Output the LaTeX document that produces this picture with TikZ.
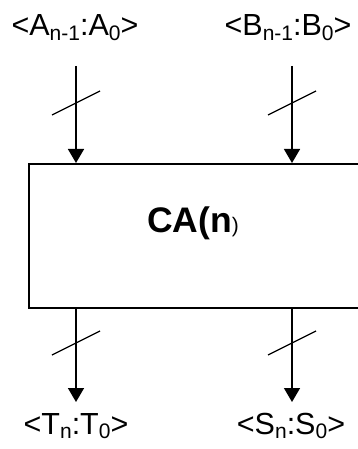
\documentclass[tikz,border=0pt]{standalone}
\usepackage{fontspec}
\setmainfont{Liberation Sans}
\usetikzlibrary{arrows.meta}
\newcommand\sbs[1]{\raisebox{-4.5pt}{\fontsize{21}{21}\selectfont #1}}
\begin{document}
\begin{tikzpicture}[x=1pt,y=-1pt,
  lbl/.style={inner sep=0pt,font=\fontsize{30.5}{34}\selectfont},
  bus/.style={line width=1.5pt,-{Triangle[width=16pt,length=14pt]}},
  slash/.style={line width=1.3pt},
  blk/.style={draw,line width=2pt,inner sep=0pt,anchor=north west}]
\useasboundingbox (0,0) rectangle (358,449);
\node[blk,minimum width=350pt,minimum height=144pt] (ca) at (28,163) {};
\node[inner sep=0pt,anchor=base west,font=\fontsize{35.5}{40}\selectfont\bfseries] (t) at (147,232) {CA(n\textmd{\fontsize{21}{21}\selectfont)}};
\node[lbl,anchor=base] (la) at (75,36) {<A\sbs{n-1}:A\sbs{0}>};
\node[lbl,anchor=base] (lb) at (288,36) {<B\sbs{n-1}:B\sbs{0}>};
\node[lbl,anchor=base] (lt) at (76,434) {<T\sbs{n}:T\sbs{0}>};
\node[lbl,anchor=base] (ls) at (291,434) {<S\sbs{n}:S\sbs{0}>};
\coordinate (a0) at (76,66);
\coordinate (b0) at (292,66);
\coordinate (t1) at (76,402);
\coordinate (s1) at (292,402);
\draw[bus] (a0) -- (a0 |- ca.north);
\draw[bus] (b0) -- (b0 |- ca.north);
\draw[bus] (t1 |- ca.south) -- (t1);
\draw[bus] (s1 |- ca.south) -- (s1);
\draw[slash] (52,115) -- (100,91);
\draw[slash] (268,115) -- (316,91);
\draw[slash] (52,355) -- (100,331);
\draw[slash] (268,355) -- (316,331);
\end{tikzpicture}
\end{document}
